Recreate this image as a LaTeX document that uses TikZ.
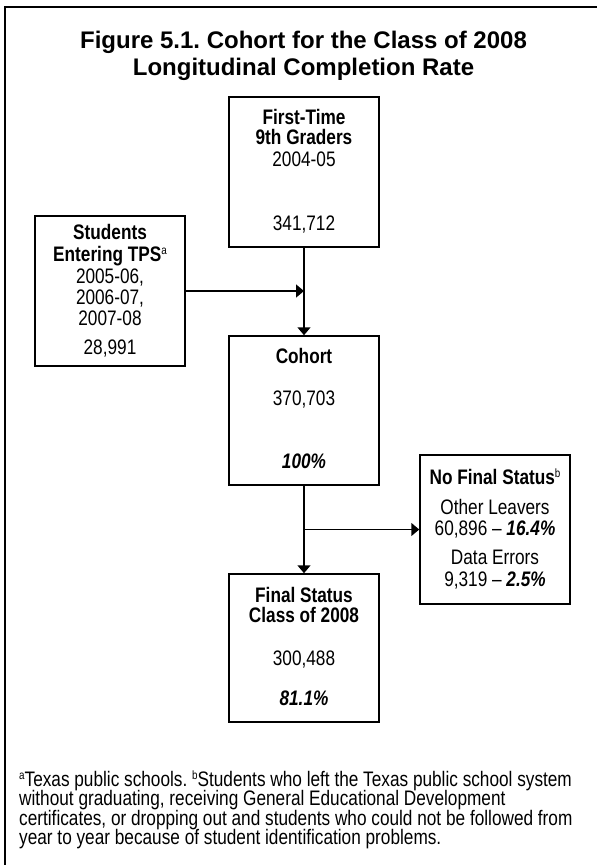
\documentclass[tikz,border=0pt]{standalone}
\usepackage{fontspec}
\setmainfont{Liberation Sans}[FakeStretch=0.82]
\newfontfamily\titlefont{Liberation Sans}
\usetikzlibrary{arrows.meta}
\newcommand\boxfs{\fontsize{21}{22}\selectfont}
\newcommand\notefs{\fontsize{21}{21}\selectfont}
\newcommand\supr[1]{\raisebox{0.6ex}{\fontsize{12}{12}\selectfont #1}}
\frenchspacing
\begin{document}
\begin{tikzpicture}[x=1pt,y=-1pt,
  stepbox/.style={draw, line width=1.5pt, inner sep=0pt, minimum width=150pt},
  txt/.style={anchor=base, inner sep=0pt, font=\boxfs},
  btxt/.style={anchor=base, inner sep=0pt, font=\boxfs\bfseries},
  note/.style={anchor=base west, inner sep=0pt, font=\notefs},
  conn/.style={line width=1.5pt, -{Triangle[length=8pt,width=13pt]}}]
\useasboundingbox (0,0) rectangle (597,865);
% frame
\draw[line width=1.5pt] (640,7) -| (5,900);
% title
\node[anchor=base, inner sep=0pt, font=\titlefont\bfseries\fontsize{24}{27}\selectfont] (title1) at (303.5,48) {Figure 5.1. Cohort for the Class of 2008};
\node[anchor=base, inner sep=0pt, font=\titlefont\bfseries\fontsize{24}{27}\selectfont] (title2) at (303.5,75) {Longitudinal Completion Rate};
% boxes
\node[stepbox, minimum height=150pt] (ftg) at (304,172) {};
\node[stepbox, minimum height=150pt] (tps) at (110,291) {};
\node[stepbox, minimum height=149pt] (coh) at (304,410.5) {};
\node[stepbox, minimum height=149pt] (nfs) at (495,529.5) {};
\node[stepbox, minimum height=148pt] (fin) at (304,648) {};
% box texts
\node[btxt] (ftg1) at (304,124) {First-Time};
\node[btxt] (ftg2) at (304,144) {9th Graders};
\node[txt] (ftg3) at (304,166) {2004-05};
\node[txt] (ftg4) at (304,230) {341,712};
\node[btxt] (tps1) at (110,239) {Students};
\node[btxt] (tps2) at (110,261) {Entering TPS\supr{\mdseries a}};
\node[txt] (tps3) at (110,283) {2005-06,};
\node[txt] (tps4) at (110,304) {2006-07,};
\node[txt] (tps5) at (110,325) {2007-08};
\node[txt] (tps6) at (110,354) {28,991};
\node[btxt] (coh1) at (304,363) {Cohort};
\node[txt] (coh2) at (304,405) {370,703};
\node[txt] (coh3) at (304,468) {\textbf{\textit{100\%}}};
\node[btxt] (nfs1) at (495,484) {No Final Status\supr{\mdseries b}};
\node[txt] (nfs2) at (495,514) {Other Leavers};
\node[txt] (nfs3) at (495,535) {60,896 – \textbf{\textit{16.4\%}}};
\node[txt] (nfs4) at (495,564) {Data Errors};
\node[txt] (nfs5) at (495,586) {9,319 – \textbf{\textit{2.5\%}}};
\node[btxt] (fin1) at (304,602) {Final Status};
\node[btxt] (fin2) at (304,622) {Class of 2008};
\node[txt] (fin3) at (304,665) {300,488};
\node[txt] (fin4) at (304,705) {\textbf{\textit{81.1\%}}};
% connectors
\coordinate (j1) at (ftg.south |- tps.east);
\coordinate (j2) at (coh.south |- nfs.west);
\draw[line width=1.5pt] (ftg.south) -- (j1);
\draw[conn] (j1) -- (coh.north);
\draw[conn] (tps.east) -- (j1);
\draw[line width=1.5pt] (coh.south) -- (j2);
\draw[conn] (j2) -- (fin.north);
\draw[conn] (j2) -- (nfs.west);
% footnote
\node[note] (fn1) at (19,786) {\supr{a}Texas public schools. \supr{b}Students who left the Texas public school system};
\node[note] (fn2) at (19,805.5) {without graduating, receiving General Educational Development};
\node[note] (fn3) at (19,825) {certificates, or dropping out and students who could not be followed from};
\node[note] (fn4) at (19,844.5) {year to year because of student identification problems.};
\end{tikzpicture}
\end{document}
